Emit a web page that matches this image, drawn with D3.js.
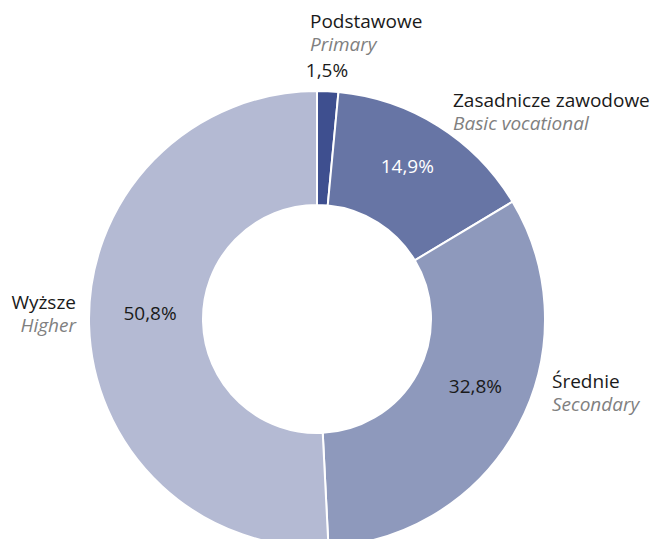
<!DOCTYPE html>
<html>
<head>
<meta charset="utf-8">
<script src="https://cdn.jsdelivr.net/npm/d3@7"></script>
<style>
  html, body { margin: 0; padding: 0; background: #fff; }
  svg { display: block; font-family: 'Open Sans', sans-serif; }
</style>
</head>
<body>
<div id="chart"></div>
<script>
const categories = ['Podstawowe', 'Zasadnicze zawodowe', 'Średnie', 'Wyższe'];
const categoriesEn = ['Primary', 'Basic vocational', 'Secondary', 'Higher'];
const shares = [1.5, 14.9, 32.8, 50.8];
const colors = ['#3e4f8f', '#6775a5', '#8e99bc', '#b4bad3'];
const valueColors = ['#1a1a1a', '#ffffff', '#1a1a1a', '#1a1a1a'];

// label placement, relative to the ring centre
const nameAnchors = [
  { x: -7, y: -291, anchor: 'start' },
  { x: 136, y: -212, anchor: 'start' },
  { x: 235, y: 69, anchor: 'start' },
  { x: -241, y: -10, anchor: 'end' }
];
const valueAnchors = [
  { x: 10, y: -249 },
  null,
  null,
  null
];
const valueShift = [[0, 0], [-3, -5], [4, -15], [8, -10]];

const width = 655, height = 539;
const cx = 317, cy = 319;
const outerR = 228, innerR = 114, labelR = 175;

const svg = d3.select('#chart').append('svg')
    .attr('width', width)
    .attr('height', height);
const g = svg.append('g')
    .attr('transform', `translate(${cx}, ${cy})`);

const rows = categories.map((name, i) => ({ name, en: categoriesEn[i], value: shares[i], i }));
const pie = d3.pie().sort(null).value(d => d.value);
const arc = d3.arc().innerRadius(innerR).outerRadius(outerR);
const labelArc = d3.arc().innerRadius(labelR).outerRadius(labelR);
const arcs = pie(rows);

g.selectAll('.slice')
  .data(arcs)
  .enter().append('path')
  .attr('class', 'slice')
  .attr('d', arc)
  .attr('fill', d => colors[d.data.i])
  .attr('stroke', '#fff')
  .attr('stroke-width', 2);

const fmt = v => v.toFixed(1).replace('.', ',') + '%';

g.selectAll('.value')
  .data(arcs)
  .enter().append('text')
  .attr('class', 'value')
  .attr('text-anchor', 'middle')
  .attr('font-size', 19)
  .attr('fill', d => valueColors[d.data.i])
  .attr('x', d => valueAnchors[d.data.i] ? valueAnchors[d.data.i].x : labelArc.centroid(d)[0] + valueShift[d.data.i][0])
  .attr('y', d => (valueAnchors[d.data.i] ? valueAnchors[d.data.i].y : labelArc.centroid(d)[1] + valueShift[d.data.i][1]) + 7)
  .text(d => fmt(d.data.value));

const names = g.selectAll('.name')
  .data(arcs)
  .enter().append('text')
  .attr('class', 'name')
  .attr('font-size', 19)
  .attr('text-anchor', d => nameAnchors[d.data.i].anchor)
  .attr('transform', d => `translate(${nameAnchors[d.data.i].x}, ${nameAnchors[d.data.i].y})`);

names.append('tspan')
  .attr('x', 0)
  .attr('fill', '#1a1a1a')
  .text(d => d.data.name);

names.append('tspan')
  .attr('x', 0)
  .attr('dy', 23)
  .attr('fill', '#808080')
  .attr('font-style', 'italic')
  .text(d => d.data.en);
</script>
</body>
</html>
